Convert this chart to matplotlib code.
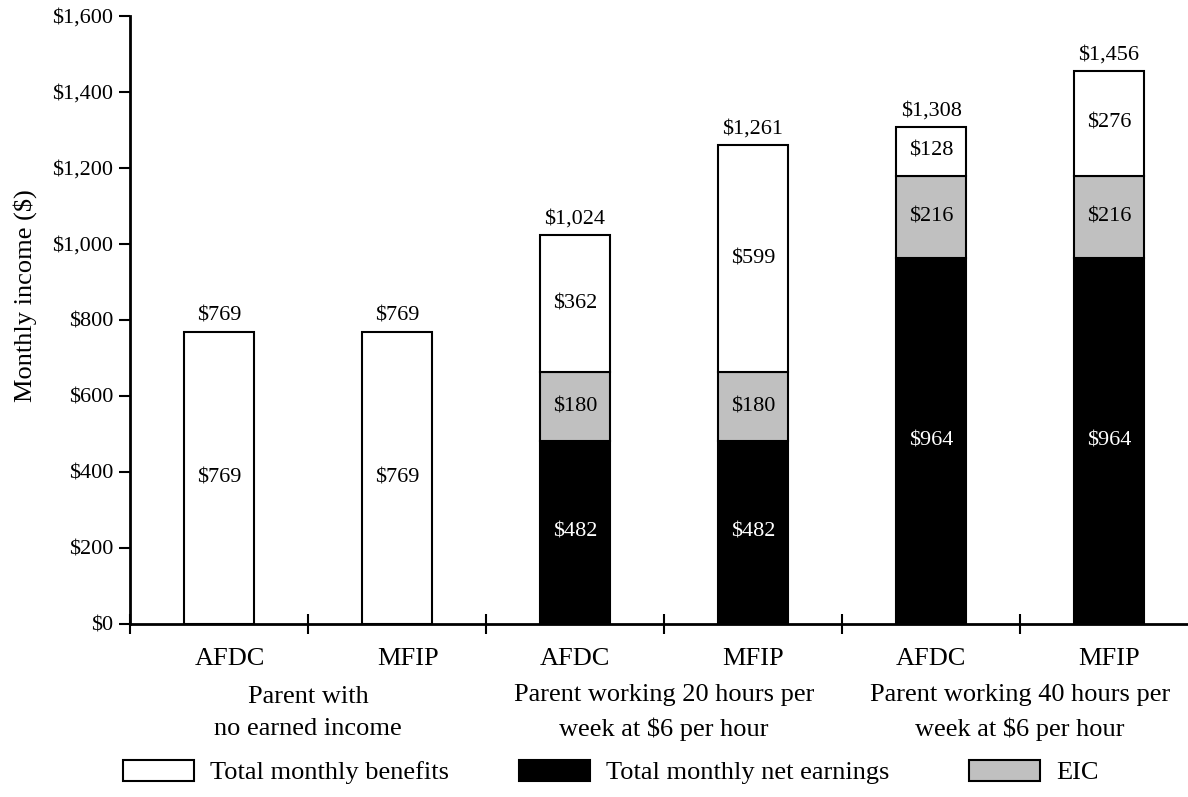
import numpy as np
import matplotlib
matplotlib.use("Agg")
import matplotlib.pyplot as plt
from matplotlib.patches import Patch

plt.rcParams['font.family'] = ['Liberation Serif', 'DejaVu Serif']

programs = ["AFDC", "MFIP", "AFDC", "MFIP", "AFDC", "MFIP"]
groups = ["Parent with\nno earned income",
          "Parent working 20 hours per\nweek at $6 per hour",
          "Parent working 40 hours per\nweek at $6 per hour"]
earnings = [0, 0, 482, 482, 964, 964]
eic = [0, 0, 180, 180, 216, 216]
benefits = [769, 769, 362, 599, 128, 276]
yticks = [0, 200, 400, 600, 800, 1000, 1200, 1400, 1600]
legend_labels = ["Total monthly benefits", "Total monthly net earnings", "EIC"]

x = np.arange(len(programs))
earnings = np.array(earnings)
eic = np.array(eic)
benefits = np.array(benefits)
totals = earnings + eic + benefits

fig = plt.figure(figsize=(11.88, 7.97), dpi=100)
ax = fig.add_axes([130/1188, 173/797, 1068/1188, 608/797])

w = 0.39
ax.bar(x, earnings, w, color="black", edgecolor="black", linewidth=1.5)
ax.bar(x, eic, w, bottom=earnings, color="#c0c0c0", edgecolor="black", linewidth=1.5)
ax.bar(x, benefits, w, bottom=earnings + eic, color="white", edgecolor="black", linewidth=1.5)

fs = 16
for i in x:
    if earnings[i] > 0:
        ax.text(i, earnings[i] / 2, f"${earnings[i]:,}", ha="center", va="center",
                color="white", fontsize=fs)
    if eic[i] > 0:
        ax.text(i, earnings[i] + eic[i] / 2, f"${eic[i]:,}", ha="center", va="center",
                fontsize=fs)
    ax.text(i, earnings[i] + eic[i] + benefits[i] / 2, f"${benefits[i]:,}",
            ha="center", va="center", fontsize=fs)
    ax.text(i, totals[i] + 30, f"${totals[i]:,}", ha="center", va="baseline", fontsize=fs)

ax.set_xlim(-0.5, 5.5)
ax.set_ylim(0, 1600)
ax.set_yticks(yticks)
ax.set_yticklabels([f"${v:,}" for v in yticks], fontsize=16)
ax.set_xticks(np.arange(-0.5, 5.6, 1))
ax.set_xticklabels([])
ax.tick_params(axis="y", direction="out", length=8, width=1.5, pad=4)
ax.tick_params(axis="x", direction="inout", length=14, width=1.5)
for i, p in enumerate(programs):
    dx = 0.062 if i < 2 else 0
    ax.text(i + dx, -0.058, p, transform=ax.get_xaxis_transform(), ha="center",
            va="center", fontsize=19)
for j, g in enumerate(groups):
    ax.text(2 * j + 0.5, -0.146, g, transform=ax.get_xaxis_transform(), ha="center",
            va="center", fontsize=19, linespacing=1.6)
ax.spines["top"].set_visible(False)
ax.spines["right"].set_visible(False)
ax.spines["left"].set_linewidth(2)
ax.spines["bottom"].set_linewidth(2)
ax.set_ylabel("Monthly income ($)", fontsize=19)
ax.yaxis.set_label_coords(-0.087, 0.54)

colors = ["white", "black", "#c0c0c0"]
legend_x = [123, 519, 969]
for c, lab, lx in zip(colors, legend_labels, legend_x):
    h = Patch(facecolor=c, edgecolor="black", linewidth=1.5)
    fig.legend([h], [lab], loc="center left", bbox_to_anchor=(lx / 1188, 25 / 797),
               frameon=False, fontsize=19, handlelength=2.7, handleheight=0.85,
               handletextpad=0.6, borderpad=0, borderaxespad=0)

fig.savefig("out.png", dpi=100)
